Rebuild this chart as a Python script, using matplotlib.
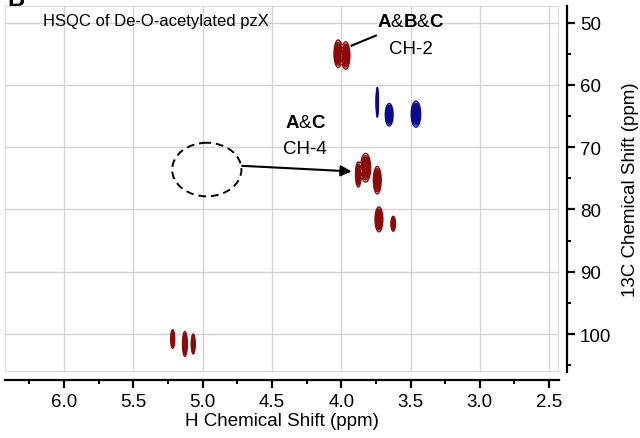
import numpy as np
import matplotlib
matplotlib.use("Agg")
import matplotlib.pyplot as plt
from matplotlib.patches import Ellipse, Rectangle

plt.rcParams['font.family'] = ['Liberation Sans', 'DejaVu Sans']
plt.rcParams['mathtext.fontset'] = 'custom'
plt.rcParams['mathtext.rm'] = 'Liberation Sans'
plt.rcParams['mathtext.bf'] = 'Liberation Sans:bold'

# --- peak data (1H ppm, 13C ppm, half width H, half width C) ---
red_h = [4.022, 3.968, 3.877, 3.824, 3.740, 3.728, 3.625, 5.216, 5.128, 5.068]
red_c = [55.0, 55.3, 74.4, 73.3, 75.3, 81.6, 82.3, 100.8, 101.6, 101.6]
red_wh = [0.030, 0.030, 0.020, 0.036, 0.028, 0.028, 0.016, 0.014, 0.017, 0.014]
red_wc = [2.2, 2.2, 2.0, 2.3, 2.2, 2.0, 1.2, 1.5, 2.0, 1.6]

blue_h = [3.740, 3.654, 3.461]
blue_c = [62.8, 64.8, 64.7]
blue_wh = [0.008, 0.028, 0.034]
blue_wc = [2.4, 1.8, 2.1]

x_ticks = [6.0, 5.5, 5.0, 4.5, 4.0, 3.5, 3.0, 2.5]
y_ticks = [50, 60, 70, 80, 90, 100]

RED = '#8b0a0a'
BLUE = '#0a0a8b'

# grid for the spectrum
hh = np.linspace(6.43, 2.43, 1800)
cc = np.linspace(46.5, 106.5, 700)
H, C = np.meshgrid(hh, cc)
LOW = 0.1
k = np.sqrt(2 * np.log(1 / LOW))


def spectrum(ph, pc, wh, wc):
    z = np.zeros_like(H)
    for h0, c0, a, b in zip(ph, pc, wh, wc):
        sh, sc = a / k, b / k
        z += np.exp(-((H - h0) ** 2 / (2 * sh ** 2) + (C - c0) ** 2 / (2 * sc ** 2)))
    return z


fig = plt.figure(figsize=(6.4, 4.39), dpi=100)
ax = fig.add_axes([0.0078, 0.151, 0.8656, 0.8337])

levels = np.linspace(LOW, 0.95, 10)
ax.contour(H, C, spectrum(red_h, red_c, red_wh, red_wc), levels=levels,
           colors=RED, linewidths=1.0)
ax.contour(H, C, spectrum(blue_h, blue_c, blue_wh, blue_wc), levels=levels,
           colors=BLUE, linewidths=1.0)

ax.set_xticks(x_ticks)
ax.set_xticklabels([f"{v:.1f}" for v in x_ticks])
ax.set_xticks(np.arange(2.75, 6.3, 0.25), minor=True)
ax.set_yticks(y_ticks)
ax.set_yticks(np.arange(55, 106, 10), minor=True)
ax.set_xlim(6.426, 2.429)
ax.set_ylim(106.05, 47.3)
ax.yaxis.tick_right()
ax.yaxis.set_label_position('right')
ax.grid(True, which='major', color='#d3d3d3', linewidth=1.0)
ax.set_axisbelow(True)

for s in ['left', 'top']:
    ax.spines[s].set_visible(False)
for s in ['right', 'bottom']:
    ax.spines[s].set_position(('outward', 6))
    ax.spines[s].set_linewidth(1.6)
ax.add_patch(Rectangle((0, 0), 1, 1, transform=ax.transAxes, fill=False,
                       edgecolor='#d3d3d3', linewidth=1.2, zorder=0.5))

ax.tick_params(which='major', direction='out', length=6, width=1.6, labelsize=13.5, pad=3)
ax.tick_params(which='minor', direction='out', length=3, width=1.4)
ax.set_xlabel("H Chemical Shift (ppm)", fontsize=13.5, labelpad=2)
ax.set_ylabel("13C Chemical Shift (ppm)", fontsize=13.5, labelpad=8)

ax.text(6.155, 49.7, "HSQC of De-O-acetylated pzX", fontsize=12, ha='left', va='center')
fig.text(0.012, 1.0, "B", fontsize=17, fontweight='bold', ha='left', va='center')

# annotations
ax.text(3.50, 49.9, r"$\mathbf{A}$&$\mathbf{B}$&$\mathbf{C}$", fontsize=13.5,
        ha='center', va='center')
ax.text(3.50, 54.2, "CH-2", fontsize=13.5, ha='center', va='center')
ax.plot([3.925, 3.75], [53.7, 52.1], color='black', linewidth=1.5)

ax.text(4.26, 66.0, r"$\mathbf{A}$&$\mathbf{C}$", fontsize=13.5, ha='center', va='center')
ax.text(4.26, 70.2, "CH-4", fontsize=13.5, ha='center', va='center')
ax.add_patch(Ellipse((4.97, 73.6), 0.5, 8.6, fill=False, edgecolor='black',
                     linestyle=(0, (4, 2.5)), linewidth=1.4))
ax.annotate("", xy=(3.925, 73.9), xytext=(4.715, 73.0),
            arrowprops=dict(arrowstyle='-|>', color='black', lw=1.5,
                            mutation_scale=16, shrinkA=0, shrinkB=0))

fig.savefig("out.png", dpi=100)
